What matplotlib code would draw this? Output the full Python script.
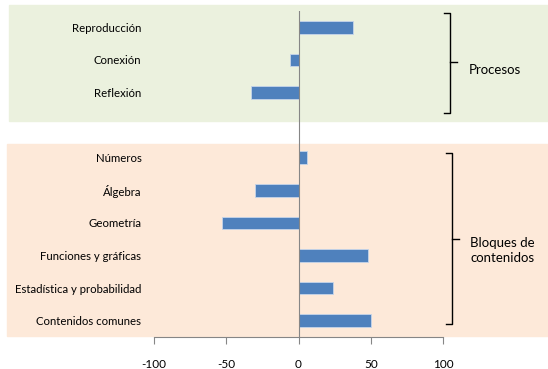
import matplotlib.pyplot as plt
from matplotlib.patches import Rectangle
from matplotlib.lines import Line2D

plt.rcParams['font.family'] = ['Lato', 'DejaVu Sans']

procesos = ["Reproducción", "Conexión", "Reflexión"]
procesos_vals = [38, -6, -33]
bloques = ["Números", "Álgebra", "Geometría", "Funciones y gráficas",
           "Estadística y probabilidad", "Contenidos comunes"]
bloques_vals = [6, -30, -53, 48, 24, 50]
xticks = [-100, -50, 0, 50, 100]

W, H = 548, 369
fig = plt.figure(figsize=(W / 100, H / 100), dpi=100)

# background bands (pixel coords from the top-left)
def band(x0, y0, x1, y1, color):
    fig.patches.append(Rectangle((x0 / W, 1 - y1 / H), (x1 - x0) / W, (y1 - y0) / H,
                                 transform=fig.transFigure, color=color, zorder=-5))

band(9, 5, 548, 121, "#ebf1de")
band(7, 144, 548, 336, "#fde9d9")

ax = fig.add_axes([154 / W, 1 - 337 / H, 289 / W, 326 / H])
ax.set_facecolor("none")
ax.set_zorder(2)

y_p = list(range(len(procesos)))
y_b = list(range(len(procesos) + 1, len(procesos) + 1 + len(bloques)))
bar_kw = dict(height=0.39, color="#4f81bd", edgecolor="#c6d5ea", linewidth=0.6, zorder=3)
ax.barh(y_p, procesos_vals, **bar_kw)
ax.barh(y_b, bloques_vals, **bar_kw)

ax.set_xlim(-100, 100)
ax.set_ylim(9.5, -0.5)
ax.set_xticks(xticks)
ax.set_xticklabels([str(v) for v in xticks], fontsize=8.5)
ax.set_yticks(y_p + y_b)
ax.set_yticklabels(procesos + bloques, fontsize=8.2)
ax.tick_params(axis="y", length=0, pad=9)
ax.tick_params(axis="x", length=5, color="#868686", pad=11, width=0.8)
for s in ["top", "right", "left"]:
    ax.spines[s].set_visible(False)
ax.spines["bottom"].set_color("#868686")
ax.spines["bottom"].set_linewidth(0.8)
ax.axvline(0, color="#868686", linewidth=0.8, zorder=4)

# brackets
def bracket(x, top, bottom, mid, serif=4.5, nub=4.5):
    kw = dict(color="black", linewidth=1.0, clip_on=False)
    ax.add_line(Line2D([x - serif, x, x, x - serif], [top, top, bottom, bottom], **kw))
    ax.add_line(Line2D([x, x + nub], [mid, mid], **kw))

bracket(105, -0.43, 2.63, 1.07)
bracket(106.5, 3.86, 9.09, 6.49)
ax.text(118, 1.3, "Procesos", fontsize=9.5, va="center", ha="left")
ax.text(118.7, 6.86, "Bloques de\ncontenidos", fontsize=9.5, va="center", ha="left",
        linespacing=1.3)

fig.savefig("out.png", dpi=100)
